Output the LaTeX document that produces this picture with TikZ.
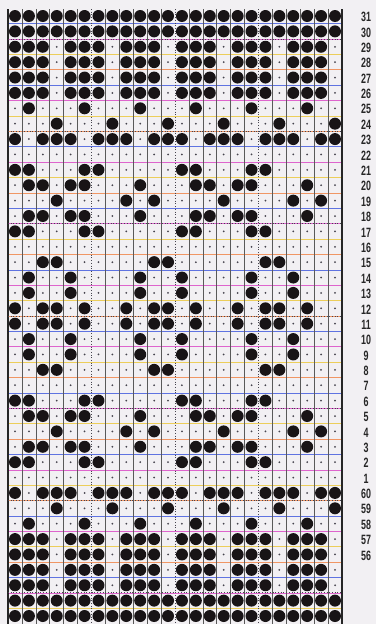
\documentclass[tikz,border=0pt]{standalone}
\usepackage{fontspec}
\newfontfamily\rowfont[FakeStretch=0.66]{Liberation Sans}
\definecolor{inkdot}{RGB}{24,20,22}
\definecolor{pindot}{RGB}{70,68,78}
\definecolor{paper}{RGB}{242,240,243}
\definecolor{lnA}{RGB}{222,100,205}
\definecolor{lnB}{RGB}{95,115,225}
\definecolor{lnC}{RGB}{236,206,90}
\definecolor{lnD}{RGB}{240,150,100}
\tikzset{
  hole/.style={fill=inkdot},
  pin/.style={fill=pindot},
  colline/.style={draw=black!65,line width=0.6pt},
  sixline/.style={draw=pindot,line width=1pt,dash pattern=on 1pt off 1.7pt},
  rim/.style={draw=black!85,line width=1.4pt},
  rule0/.style={draw=lnB,line width=0.7pt},
  rule1/.style={draw=lnA,line width=0.7pt},
  rule2/.style={draw=lnC,line width=0.7pt},
  rule3/.style={draw=lnD,line width=0.7pt},
  rowlab/.style={font=\rowfont\bfseries\fontsize{13.5}{14}\selectfont,text=black!85,inner sep=0pt},
}
% column / row positions
\newcommand{\cx}[1]{(15+((#1)-1)*13.913)}
\newcommand{\ry}[1]{(16+(#1)*15.385)}
% punched columns of one row
\newcommand{\prow}[2]{%
  \foreach \c in #2 {\fill[hole] ({\cx{\c}},{\ry{#1}}) circle (6pt);}%
}
\newcommand{\pfull}{1,...,24}
\newcommand{\pbar}{1,2,3,5,6,7,9,10,11,13,14,15,17,18,19,21,22,23}
\newcommand{\pdotA}{2,6,10,14,18,22}
\newcommand{\pdotB}{4,8,12,16,20,24}
\newcommand{\pgap}{1,3,4,5,7,8,9,11,12,13,15,16,17,19,20,21,23,24}
\newcommand{\ptwin}{1,2,6,7,13,14,18,19}
\newcommand{\pwing}{2,3,5,6,10,14,15,17,18,22}
\newcommand{\pspot}{4,9,11,16,21,23}
\newcommand{\ppair}{3,4,11,12,19,20}
\newcommand{\pstep}{2,5,10,13,18,21}
\newcommand{\pcross}{1,3,4,6,9,11,12,14,17,19,20,22}

\begin{document}
\begin{tikzpicture}[x=1pt,y=-1pt]
        \fill[paper] (0,0) rectangle (376,624);
        \useasboundingbox (0,0) rectangle (376,624);
        % coloured rules between the rows
        \foreach \i in {0,...,38}{%
          \pgfmathtruncatemacro\k{mod(\i,4)}
          \draw[rule\k] (8,{\ry{\i+0.5}}) -- (342,{\ry{\i+0.5}});}
        % column lines
        \foreach \c in {1,...,23}{%
          \ifnum\c=6 \draw[sixline] ({\cx{\c+0.5}},9) -- ({\cx{\c+0.5}},624);
          \else\ifnum\c=12 \draw[sixline] ({\cx{\c+0.5}},9) -- ({\cx{\c+0.5}},624);
          \else\ifnum\c=18 \draw[sixline] ({\cx{\c+0.5}},9) -- ({\cx{\c+0.5}},624);
          \else \draw[colline] ({\cx{\c+0.5}},9) -- ({\cx{\c+0.5}},624);
          \fi\fi\fi}
        \draw[rim] (8,9) -- (8,624);
        \draw[rim] (342,9) -- (342,624);
        % every sixth row
        \foreach \i in {1,7,13,19,25,31,37}
          \draw[sixline] (8,{\ry{\i+0.5}}) -- (342,{\ry{\i+0.5}});
        % unpunched places
        \foreach \r in {0,...,39}
          \foreach \c in {1,...,24}
            \fill[pin] ({\cx{\c}},{\ry{\r}}) circle (1pt);
        % holes
        \prow{0}{\pfull}\prow{1}{\pfull}\prow{38}{\pfull}\prow{39}{\pfull}
        \foreach \i in {2,3,4,5,34,35,36,37}{\prow{\i}{\pbar}}
        \prow{6}{\pdotA}\prow{33}{\pdotA}
        \prow{7}{\pdotB}\prow{32}{\pdotB}
        \prow{8}{\pgap}\prow{31}{\pgap}
        \foreach \i in {10,14,25,29}{\prow{\i}{\ptwin}}
        \foreach \i in {11,13,26,28}{\prow{\i}{\pwing}}
        \prow{12}{\pspot}\prow{27}{\pspot}
        \prow{16}{\ppair}\prow{23}{\ppair}
        \foreach \i in {17,18,21,22}{\prow{\i}{\pstep}}
        \prow{19}{\pcross}\prow{20}{\pcross}
        % row numbers
        \foreach \n [count=\i from 0] in {31,30,...,1}
          \node[rowlab] (r\n) at (366,{\ry{\i}+1}) {\n};
        \foreach \n [count=\i from 31] in {60,59,...,56}
          \node[rowlab] (r\n) at (366,{\ry{\i}+1}) {\n};
      \end{tikzpicture}
\end{document}
